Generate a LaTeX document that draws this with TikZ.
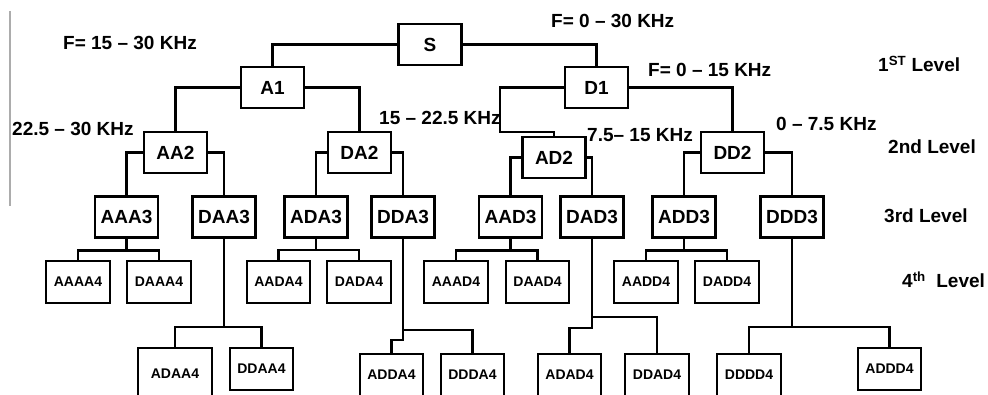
\documentclass[tikz,border=0pt]{standalone}
\usepackage{fontspec}
\setmainfont{Liberation Sans}
\begin{document}
\begin{tikzpicture}[x=1pt,y=-1pt,
  box/.style={draw,line width=2.4pt,inner sep=0pt,minimum width=63pt,minimum height=41pt,font=\fontsize{19}{19}\selectfont\bfseries},
  sbox/.style={draw,line width=2.4pt,inner sep=0pt,minimum width=63.5pt,minimum height=41.5pt,font=\fontsize{14}{14}\selectfont\bfseries},
  tbox/.style={sbox,anchor=north,minimum height=0pt,text height=25pt,text depth=25pt},
  lbl/.style={inner sep=0pt,anchor=base west,font=\fontsize{19}{19}\selectfont\bfseries},
  wire/.style={line width=2.4pt}]
\useasboundingbox (0,0) rectangle (988,395);
\clip (0,0) rectangle (988,395);
\draw[gray!65,line width=1.5pt] (10,11) -- (10,206);
% level 0-2
\node[box] (S) at (430,44.5) {S};
\node[box] (A1) at (272.5,87.5) {A1};
\node[box] (D1) at (596.5,87.5) {D1};
\node[box] (AA2) at (175.5,152.5) {AA2};
\node[box] (DA2) at (359.5,152.5) {DA2};
\node[box] (AD2) at (554,157.5) {AD2};
\node[box] (DD2) at (732.5,152.5) {DD2};
% level 3
\node[box] (AAA3) at (126.5,217) {AAA3};
\node[box] (DAA3) at (224,217) {DAA3};
\node[box] (ADA3) at (316,217) {ADA3};
\node[box] (DDA3) at (403,217) {DDA3};
\node[box] (AAD3) at (510.5,217) {AAD3};
\node[box] (DAD3) at (592,217) {DAD3};
\node[box] (ADD3) at (684,217) {ADD3};
\node[box] (DDD3) at (792,217) {DDD3};
% level 4
\node[sbox] (AAAA4) at (78,282) {AAAA4};
\node[sbox] (DAAA4) at (159,282) {DAAA4};
\node[sbox] (AADA4) at (278.5,282) {AADA4};
\node[sbox] (DADA4) at (359,282) {DADA4};
\node[sbox] (AAAD4) at (456,282) {AAAD4};
\node[sbox] (DAAD4) at (537.5,282) {DAAD4};
\node[sbox] (AADD4) at (646,282) {AADD4};
\node[sbox] (DADD4) at (727,282) {DADD4};
% bottom row
\node[tbox,minimum width=73.5pt,text height=30pt] (ADAA4) at (175,347) {ADAA4};
\node[sbox] (DDAA4) at (261.5,369) {DDAA4};
\node[tbox] (ADDA4) at (391.5,353) {ADDA4};
\node[tbox] (DDDA4) at (472.5,353) {DDDA4};
\node[tbox] (ADAD4) at (569.5,353) {ADAD4};
\node[tbox] (DDAD4) at (657,353) {DDAD4};
\node[tbox] (DDDD4) at (749,353) {DDDD4};
\node[sbox] (ADDD4) at (889.5,369) {ADDD4};
% connectors
\draw[wire] (S.west) -| (A1.north);
\draw[wire] (S.east) -| (D1.north);
\draw[wire] (A1.west) -| (AA2.north);
\draw[wire] (A1.east) -| (DA2.north);
\draw[wire] (D1.west) -| (500,132) -| (AD2.north);
\draw[wire] (D1.east) -| (DD2.north);
\draw[wire] (AA2.west) -| (AAA3.north);
\draw[wire] (AA2.east) -| (DAA3.north);
\draw[wire] (DA2.west) -| (ADA3.north);
\draw[wire] (DA2.east) -| (DDA3.north);
\draw[wire] (AD2.west) -| (AAD3.north);
\draw[wire] (AD2.east) -| (DAD3.north);
\draw[wire] (DD2.west) -| (ADD3.north);
\draw[wire] (DD2.east) -| (DDD3.north);
\draw[wire] (AAA3.south) -- ++(0,12) -| (AAAA4.north);
\draw[wire] (AAA3.south) -- ++(0,12) -| (DAAA4.north);
\draw[wire] (ADA3.south) -- ++(0,11.5) -| (AADA4.north);
\draw[wire] (ADA3.south) -- ++(0,11.5) -| (DADA4.north);
\draw[wire] (AAD3.south) -- ++(0,12) -| (AAAD4.north);
\draw[wire] (AAD3.south) -- ++(0,12) -| (DAAD4.north);
\draw[wire] (ADD3.south) -- ++(0,12) -| (AADD4.north);
\draw[wire] (ADD3.south) -- ++(0,12) -| (DADD4.north);
\draw[wire] (DAA3.south) -- ++(0,88.5) -| (ADAA4.north);
\draw[wire] (DAA3.south) -- ++(0,88.5) -| (DDAA4.north);
\draw[wire] (DDA3.south) -- ++(0,91.5) -| (DDDA4.north);
\draw[wire] (DDA3.south) -- ++(0,101.5) -| (ADDA4.north);
\draw[wire] (DAD3.south) -- ++(0,78.5) -| (DDAD4.north);
\draw[wire] (DAD3.south) -- ++(0,89.5) -| (ADAD4.north);
\draw[wire] (DDD3.south) -- ++(0,88.5) -| (DDDD4.north);
\draw[wire] (DDD3.south) -- ++(0,88.5) -| (ADDD4.north);
% labels
\node[lbl] (f1) at (63,50) {F= 15 – 30 KHz};
\node[lbl] (f0) at (551,28) {F= 0 – 30 KHz};
\node[lbl] (f2) at (648,77) {F= 0 – 15 KHz};
\node[lbl] (f3) at (12,136) {22.5 – 30 KHz};
\node[lbl] (f4) at (379,125) {15 – 22.5 KHz};
\node[lbl] (f5) at (587,142) {7.5– 15 KHz};
\node[lbl] (f6) at (776,131) {0 – 7.5 KHz};
\node[lbl] (l1) at (878,72) {1\textsuperscript{ST} Level};
\node[lbl] (l2) at (888,154) {2nd Level};
\node[lbl] (l3) at (884,223) {3rd Level};
\node[lbl] (l4) at (902,288) {4\textsuperscript{th}\ \ Level};
\end{tikzpicture}
\end{document}
